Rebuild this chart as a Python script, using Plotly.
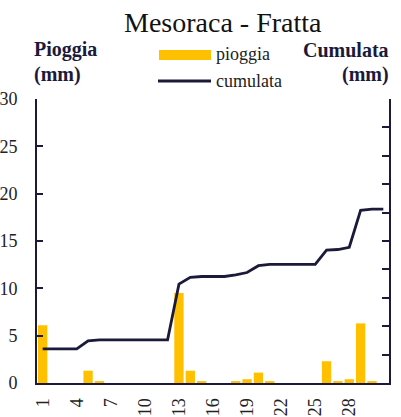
import plotly.graph_objects as go

days = list(range(1, 32))
pioggia = [6.1, 0, 0, 0, 1.3, 0.2, 0, 0, 0, 0, 0, 0, 9.5, 1.3, 0.2, 0, 0, 0.2, 0.4, 1.1,
           0.2, 0, 0, 0, 0, 2.3, 0.2, 0.4, 6.3, 0.2, 0]
cumulata = [6.0, 6.0, 6.0, 6.0, 7.4, 7.6, 7.6, 7.6, 7.6, 7.6, 7.6, 7.6, 17.4, 18.6, 18.75,
            18.75, 18.75, 19.05, 19.45, 20.65, 20.9, 20.9, 20.9, 20.9, 20.9, 23.4, 23.5,
            23.9, 30.4, 30.6, 30.6]
tick_days = [1, 4, 7, 10, 13, 16, 19, 22, 25, 28]

NAVY = "#1b1a3a"
GOLD = "#FFC000"
FONT = "Liberation Serif"

fig = go.Figure()
fig.add_trace(go.Bar(x=days, y=pioggia, marker=dict(color=GOLD, line=dict(width=0)),
                     width=0.82, name="pioggia", yaxis="y"))
fig.add_trace(go.Scatter(x=days, y=cumulata, mode="lines", line=dict(color=NAVY, width=2.8),
                         name="cumulata", yaxis="y2"))

L, R, T, B = 37, 12, 99, 34
W, H = 401, 417
pw, ph = W - L - R, H - T - B

def px(x):
    return (x - L) / pw

def py(y):
    return (H - B - y) / ph

fig.update_layout(
    width=W, height=H,
    margin=dict(l=L, r=R, t=T, b=B),
    paper_bgcolor="white", plot_bgcolor="white",
    showlegend=False,
    font=dict(family=FONT, color="#222222", size=18),
    xaxis=dict(range=[0.5, 31.5], tickmode="array", tickvals=tick_days,
               ticktext=[str(d) for d in tick_days], tickangle=-90, ticks="",
               showline=True, linecolor=NAVY, linewidth=2, showgrid=False, zeroline=False,
               automargin=False,
               tickfont=dict(size=18, family=FONT, color="#222222"), ticklabelstandoff=6),
    yaxis=dict(range=[0, 30], dtick=5, ticks="inside", ticklen=6, tickwidth=2, tickcolor=NAVY,
               showline=True, linecolor=NAVY, linewidth=2, showgrid=False, zeroline=False,
               automargin=False,
               tickfont=dict(size=18, family=FONT, color="#222222"), ticklabelstandoff=14),
    yaxis2=dict(range=[0, 50], dtick=5, ticks="inside", ticklen=7, tickwidth=2, tickcolor=NAVY,
                overlaying="y", side="right", showticklabels=False, automargin=False,
                showline=True, linecolor=NAVY, linewidth=2, showgrid=False, zeroline=False),
)

ann = []
ann.append(dict(text="Mesoraca - Fratta", x=px(223), y=py(22), xref="paper", yref="paper",
                xanchor="center", yanchor="middle", showarrow=False,
                font=dict(size=28, family=FONT, color="#111111")))
bold = dict(size=20, family=FONT, color="#1b1a3a")
ann.append(dict(text="<b>Pioggia</b>", x=px(32), y=py(50), xref="paper", yref="paper",
                xanchor="left", yanchor="middle", showarrow=False, font=bold))
ann.append(dict(text="<b>(mm)</b>", x=px(32), y=py(75), xref="paper", yref="paper",
                xanchor="left", yanchor="middle", showarrow=False, font=bold))
ann.append(dict(text="<b>Cumulata</b>", x=px(391), y=py(50), xref="paper", yref="paper",
                xanchor="right", yanchor="middle", showarrow=False, font=bold))
ann.append(dict(text="<b>(mm)</b>", x=px(391), y=py(75), xref="paper", yref="paper",
                xanchor="right", yanchor="middle", showarrow=False, font=bold))
leg = dict(size=18, family=FONT, color="#222222")
ann.append(dict(text="pioggia", x=px(214), y=py(54), xref="paper", yref="paper",
                xanchor="left", yanchor="middle", showarrow=False, font=leg))
ann.append(dict(text="cumulata", x=px(214), y=py(81), xref="paper", yref="paper",
                xanchor="left", yanchor="middle", showarrow=False, font=leg))
fig.update_layout(annotations=ann)

fig.add_shape(type="rect", xref="paper", yref="paper", x0=px(159), x1=px(211),
              y0=py(60), y1=py(50), fillcolor=GOLD, line=dict(width=0))
fig.add_shape(type="line", xref="paper", yref="paper", x0=px(158), x1=px(211),
              y0=py(81), y1=py(81), line=dict(color=NAVY, width=3))

fig.write_html("out.html", config={"displayModeBar": False, "staticPlot": True},
               post_script="document.body.style.margin='0';document.body.style.overflow='hidden';")
